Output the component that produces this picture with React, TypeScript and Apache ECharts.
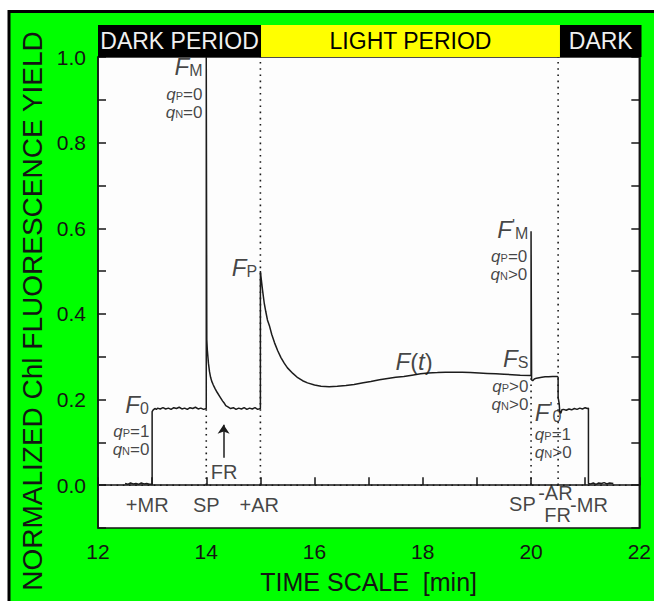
import React, { useEffect, useRef } from 'react';
import * as echarts from 'echarts';

const FONT = '"Liberation Sans", Arial, Helvetica, sans-serif';
const INK = '#141414';

// ---- axes ----
const xTickLabels = ['12', '14', '16', '18', '20', '22'];
const yTickLabels = ['0.0', '0.2', '0.4', '0.6', '0.8', '1.0'];

// ---- header periods ----
const periodNames = ['DARK PERIOD', 'LIGHT PERIOD', 'DARK'];
const periodStart = [12, 15, 20.5];
const periodEnd = [15, 20.5, 22];

// ---- fluorescence trace (time [min], normalized yield) ----
const darkBaseline: number[][] = [
  [12.5, 0.004], [12.55, 0.002], [12.6, 0.005], [12.65, 0.003], [12.7, 0.004], [12.75, 0.002],
  [12.8, 0.005], [12.85, 0.003], [12.9, 0.004], [12.95, 0.002], [13.0, 0.003],
];
const f0Level: number[][] = [
  [13.0, 0.172], [13.02, 0.176], [13.05, 0.179], [13.08, 0.177], [13.1, 0.18], [13.15, 0.178],
  [13.2, 0.181], [13.25, 0.178], [13.3, 0.18], [13.35, 0.177], [13.4, 0.181], [13.45, 0.179],
  [13.5, 0.182], [13.55, 0.178], [13.6, 0.18], [13.65, 0.177], [13.7, 0.181], [13.75, 0.179],
  [13.8, 0.182], [13.85, 0.178], [13.9, 0.18], [13.95, 0.177], [14.0, 0.179],
];
const fmPulse: number[][] = [
  [14.0, 1.0], [14.01, 1.0], [14.01, 0.34], [14.02, 0.315], [14.04, 0.285], [14.06, 0.265],
  [14.08, 0.252], [14.1, 0.243], [14.13, 0.234], [14.16, 0.226], [14.2, 0.217], [14.25, 0.207],
  [14.3, 0.197], [14.33, 0.192], [14.36, 0.186], [14.4, 0.183], [14.45, 0.179], [14.5, 0.181],
  [14.55, 0.177], [14.6, 0.18], [14.65, 0.178], [14.7, 0.181], [14.75, 0.177], [14.8, 0.18],
  [14.85, 0.178], [14.9, 0.181], [14.95, 0.177], [15.0, 0.179],
];
const induction: number[][] = [
  [15.0, 0.5], [15.01, 0.488], [15.04, 0.455], [15.07, 0.426], [15.1, 0.405], [15.13, 0.386],
  [15.17, 0.371], [15.21, 0.352], [15.26, 0.333], [15.32, 0.314], [15.38, 0.298], [15.44, 0.285],
  [15.5, 0.274], [15.6, 0.261], [15.69, 0.251], [15.78, 0.244], [15.87, 0.239], [16.0, 0.234],
  [16.12, 0.231], [16.27, 0.23], [16.42, 0.231], [16.58, 0.233], [16.73, 0.235], [16.9, 0.239],
  [17.04, 0.242], [17.2, 0.246], [17.35, 0.249], [17.5, 0.252], [17.65, 0.254], [17.8, 0.257],
  [17.96, 0.26], [18.1, 0.262], [18.27, 0.263], [18.42, 0.264], [18.58, 0.264], [18.73, 0.264],
  [18.88, 0.263], [19.04, 0.262], [19.19, 0.261], [19.35, 0.26], [19.5, 0.259], [19.65, 0.258],
  [19.8, 0.257], [20.0, 0.256],
];
const fmPrimePulse: number[][] = [
  [20.0, 0.593], [20.01, 0.593], [20.01, 0.246], [20.03, 0.244], [20.06, 0.248], [20.1, 0.25],
  [20.15, 0.251], [20.2, 0.252], [20.26, 0.253], [20.32, 0.253], [20.4, 0.254], [20.48, 0.254],
  [20.5, 0.252],
];
const postLight: number[][] = [
  [20.5, 0.205], [20.52, 0.19], [20.53, 0.172], [20.55, 0.168], [20.57, 0.176], [20.6, 0.177],
  [20.65, 0.175], [20.7, 0.178], [20.75, 0.176], [20.8, 0.179], [20.85, 0.177], [20.9, 0.18],
  [20.95, 0.178], [21.0, 0.181], [21.04, 0.179], [21.06, 0.18], [21.06, 0.004], [21.1, 0.003],
  [21.15, 0.005], [21.2, 0.002], [21.25, 0.005], [21.3, 0.004], [21.35, 0.006], [21.4, 0.003],
  [21.45, 0.005], [21.52, 0.004],
];

// ---- dotted reference lines ----
const markerTime = [14, 15, 20, 20.5];
const markerTop = [0.179, 1.0, 0.256, 1.0];
const zeroLine: number[][] = [[12, 0], [22, 0]];

// ---- event labels under the trace ----
const eventNames = ['+MR', 'SP', '+AR', 'SP', '-AR', 'FR', '-MR'];
const eventTime = [12.91, 14.0, 14.98, 19.84, 20.45, 20.49, 21.07];
const eventValue = [-0.046, -0.046, -0.046, -0.043, -0.019, -0.07, -0.046];

// ---- far-red arrow ----
const frLabel = { name: 'FR', time: 14.33, value: 0.03 };
const frArrowTime = 14.32;
const frArrowFrom = 0.064;
const frArrowTo = 0.141;

// ---- annotations (rich text), anchor time/value, side ----
const annotTexts = [
  '{F|F}{s|M}', '{q|q}{qs|P}{t|=0}', '{q|q}{qs|N}{t|=0}',
  '{F|F}{s|0}', '{q|q}{qs|P}{t|=1}', '{q|q}{qs|N}{t|=0}',
  '{F|F}{s|P}',
  '{F|F}{b|(}{F|t}{b|)}',
  "{F|F}{p|'}{s|M}", '{q|q}{qs|P}{t|=0}', '{q|q}{qs|N}{t|>0}',
  '{F|F}{s|S}', '{q|q}{qs|P}{t|>0}', '{q|q}{qs|N}{t|>0}',
  "{F|F}{p|'}{s|0}", '{q|q}{qs|P}{t|=1}', '{q|q}{qs|N}{t|>0}',
];
const annotTime = [
  13.93, 13.93, 13.93,
  12.94, 12.95, 12.95,
  14.94,
  17.84,
  19.95, 19.93, 19.93,
  19.95, 19.95, 19.95,
  20.07, 20.07, 20.07,
];
const annotValue = [
  0.977, 0.913, 0.871,
  0.188, 0.126, 0.084,
  0.509,
  0.29,
  0.597, 0.535, 0.493,
  0.297, 0.231, 0.189,
  0.169, 0.119, 0.077,
];
const annotSide = [
  'left', 'left', 'left',
  'left', 'left', 'left',
  'left',
  'inside',
  'left', 'left', 'left',
  'left', 'left', 'left',
  'right', 'right', 'right',
];

const rich = {
  F: { fontSize: 24, fontStyle: 'italic', fontFamily: FONT, color: INK, lineHeight: 24 },
  b: { fontSize: 24, fontFamily: FONT, color: INK, lineHeight: 24 },
  s: { fontSize: 16, fontFamily: FONT, color: INK, lineHeight: 4, verticalAlign: 'bottom' },
  p: { fontSize: 16, fontFamily: FONT, color: INK, lineHeight: 4, verticalAlign: 'top' },
  q: { fontSize: 17, fontStyle: 'italic', fontFamily: FONT, color: INK, lineHeight: 15 },
  qs: { fontSize: 11, fontFamily: FONT, color: INK, lineHeight: 2, verticalAlign: 'bottom' },
  t: { fontSize: 17, fontFamily: FONT, color: INK, lineHeight: 15 },
};

export default function App() {
  const ref = useRef<HTMLDivElement>(null);

  useEffect(() => {
    if (!ref.current) return;
    const chart = echarts.init(ref.current, null, { renderer: 'svg' });

    const trace = [...darkBaseline, ...f0Level, ...fmPulse, ...induction, ...fmPrimePulse, ...postLight];
    const dotted = { color: '#1a1a1a', width: 1.6, type: [1.6, 4.6] as number[] };

    const markerSeries = markerTime.map((t, i) => ({
      type: 'line',
      xAxisIndex: 0,
      yAxisIndex: 0,
      data: [[t, 0], [t, markerTop[i]]],
      showSymbol: false,
      symbol: 'none',
      silent: true,
      lineStyle: dotted,
      z: 3,
    }));

    const periodColors = ['#000000', '#ffff00', '#000000'];
    const periodTextColors = ['#f0f0f0', '#000000', '#f0f0f0'];

    const option: any = {
      animation: false,
      backgroundColor: '#ffffff',
      graphic: [
        {
          type: 'rect',
          z: -100,
          shape: { x: 9, y: 11.5, width: 700, height: 650 },
          style: { fill: '#00ff00', stroke: '#000000', lineWidth: 3 },
          silent: true,
        },
        {
          type: 'text',
          x: 32,
          y: 311,
          rotation: Math.PI / 2,
          z: 10,
          style: {
            text: 'NORMALIZED Chl FLUORESCENCE YIELD',
            fontSize: 28,
            fontFamily: FONT,
            fill: INK,
            align: 'center',
            verticalAlign: 'middle',
            textAlign: 'center',
            textVerticalAlign: 'middle',
          },
          silent: true,
        },
      ],
      grid: [
        {
          left: 98, right: 12.5, top: 57, bottom: 73,
          show: true, backgroundColor: '#fdfdfd', borderColor: INK, borderWidth: 1.5,
        },
        { left: 98, right: 12.5, top: 25, height: 32, show: false },
      ],
      xAxis: [
        {
          type: 'value', gridIndex: 0, min: 12, max: 22, interval: 1,
          axisLine: { show: true, lineStyle: { color: INK, width: 1.5 } },
          axisTick: { show: true, inside: true, length: 8, lineStyle: { color: INK, width: 1.5 } },
          splitLine: { show: false },
          axisLabel: {
            margin: 13, fontSize: 21, fontFamily: FONT, color: INK,
            formatter: (v: number) => {
              const s = String(Math.round(v));
              return xTickLabels.includes(s) ? s : '';
            },
          },
          name: 'TIME SCALE  [min]',
          nameLocation: 'middle',
          nameGap: 41,
          nameTextStyle: { fontSize: 25, fontFamily: FONT, color: INK },
        },
        { type: 'value', gridIndex: 1, min: 12, max: 22, show: false },
      ],
      yAxis: [
        {
          type: 'value', gridIndex: 0, min: -0.1, max: 1.0, interval: 0.1, position: 'left',
          axisLine: { show: true, lineStyle: { color: INK, width: 1.5 } },
          axisTick: { show: true, inside: true, length: 8, lineStyle: { color: INK, width: 1.5 } },
          splitLine: { show: false },
          axisLabel: {
            margin: 12, fontSize: 21, fontFamily: FONT, color: INK,
            formatter: (v: number) => {
              const s = (Math.round(v * 10) / 10).toFixed(1);
              return yTickLabels.includes(s) ? s : '';
            },
          },
        },
        {
          type: 'value', gridIndex: 0, min: -0.1, max: 1.0, interval: 0.1, position: 'right',
          axisLine: { show: true, lineStyle: { color: INK, width: 1.5 } },
          axisTick: { show: true, inside: true, length: 8, lineStyle: { color: INK, width: 1.5 } },
          splitLine: { show: false },
          axisLabel: { show: false },
        },
        { type: 'value', gridIndex: 1, min: 0, max: 1, show: false },
      ],
      series: [
        {
          type: 'line',
          xAxisIndex: 1,
          yAxisIndex: 2,
          data: [[12, -1]],
          symbol: 'none',
          lineStyle: { opacity: 0 },
          silent: true,
          markArea: {
            silent: true,
            data: periodNames.map((n, i) => [
              {
                name: n,
                xAxis: periodStart[i],
                itemStyle: { color: periodColors[i], opacity: 1 },
                label: {
                  show: true, position: 'inside', color: periodTextColors[i],
                  fontSize: 23, fontFamily: FONT,
                },
              },
              { xAxis: periodEnd[i] },
            ]),
          },
        },
        {
          type: 'line',
          data: zeroLine,
          symbol: 'none',
          silent: true,
          lineStyle: dotted,
          z: 3,
        },
        ...markerSeries,
        {
          type: 'line',
          data: trace,
          symbol: 'none',
          showSymbol: false,
          silent: true,
          lineStyle: { color: '#1c1c1c', width: 1.5 },
          z: 5,
        },
        {
          type: 'line',
          data: [],
          symbol: 'none',
          silent: true,
          markLine: {
            silent: true,
            symbol: ['none', 'arrow'],
            symbolSize: 9,
            label: { show: false },
            lineStyle: { color: '#1c1c1c', width: 1.5, type: 'solid' },
            data: [[{ coord: [frArrowTime, frArrowFrom] }, { coord: [frArrowTime, frArrowTo] }]],
          },
        },
        {
          type: 'scatter',
          symbolSize: 0,
          silent: true,
          z: 6,
          data: [
            ...eventNames.map((n, i) => ({
              value: [eventTime[i], eventValue[i]],
              label: {
                show: true, position: 'inside', formatter: n,
                fontSize: 20, lineHeight: 16, fontFamily: FONT, color: INK,
              },
            })),
            {
              value: [frLabel.time, frLabel.value],
              label: {
                show: true, position: 'inside', formatter: frLabel.name,
                fontSize: 20, lineHeight: 16, fontFamily: FONT, color: INK,
              },
            },
            ...annotTexts.map((txt, i) => ({
              value: [annotTime[i], annotValue[i]],
              label: {
                show: true,
                position: annotSide[i],
                distance: 0,
                formatter: txt,
                rich,
              },
            })),
          ],
        },
      ],
    };

    chart.setOption(option);
    return () => chart.dispose();
  }, []);

  return (
    <div
      ref={ref}
      style={{ position: 'absolute', left: 0, top: 0, width: 654, height: 601 }}
    />
  );
}
